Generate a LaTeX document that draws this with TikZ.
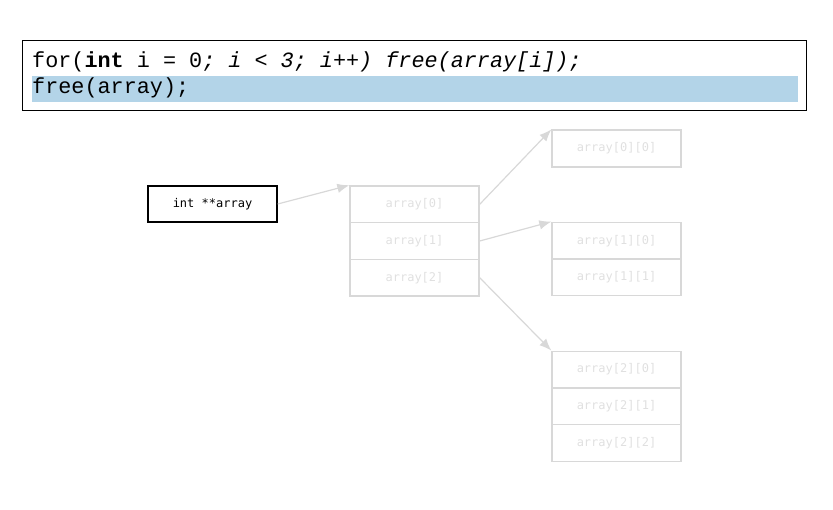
\documentclass[tikz,border=0pt]{standalone}
\usepackage{fontspec}
\setmainfont{DejaVu Sans}
\newfontfamily\codefont{Liberation Mono}
\newfontfamily\cellfont{DejaVu Sans Mono}
\usetikzlibrary{arrows.meta}
\definecolor{faded}{RGB}{216,216,216}
\definecolor{fadedtext}{RGB}{224,224,224}
\definecolor{hilite}{RGB}{179,212,232}
\begin{document}
\begin{tikzpicture}[x=1pt,y=-1pt,
  cell/.style={draw=faded,line width=1.4pt,minimum width=129pt,minimum height=36.7pt,
    inner sep=0pt,font=\cellfont\fontsize{12}{13}\selectfont,text=fadedtext},
  ptrbox/.style={draw=black,line width=1.4pt,minimum width=129pt,minimum height=36pt,
    inner sep=0pt,font=\cellfont\fontsize{12}{13}\selectfont},
  link/.style={draw=faded,line width=1.2pt,-{Latex[length=12pt,width=9.5pt]}},
  codeline/.style={anchor=base west,inner sep=0pt,font=\codefont\fontsize{21.8}{24}\selectfont}]
\useasboundingbox (0,0) rectangle (833,509);

% code listing
\node[draw=black,line width=0.8pt,minimum width=784pt,minimum height=70pt,inner sep=0pt] (code) at (414,75) {};
\node[fill=hilite,minimum width=766pt,minimum height=26pt,inner sep=0pt] (hl) at (415,89) {};
\node[codeline] (line1) at (32,67) {for(\textbf{int} i = 0\textit{; i < 3; i++) free(array[i]);}};
\node[codeline] (line2) at (32,93) {free(array);};

% pointer variable
\node[ptrbox] (ptr) at (212.5,204) {int **array};

% first-level array
\node[cell] (a0) at (414.5,204.3) {array[0]};
\node[cell] (a1) at (414.5,241) {array[1]};
\node[cell] (a2) at (414.5,277.7) {array[2]};

% rows
\node[cell] (b00) at (616.5,148.5) {array[0][0]};
\node[cell] (b10) at (616.5,240.7) {array[1][0]};
\node[cell] (b11) at (616.5,277.4) {array[1][1]};
\node[cell] (b20) at (616.5,369.6) {array[2][0]};
\node[cell] (b21) at (616.5,406.3) {array[2][1]};
\node[cell] (b22) at (616.5,443) {array[2][2]};

% pointers
\draw[link] (ptr.east) -- (a0.north west);
\draw[link] (a0.east) -- (b00.north west);
\draw[link] (a1.east) -- (b10.north west);
\draw[link] (a2.east) -- (b20.north west);
\end{tikzpicture}
\end{document}
